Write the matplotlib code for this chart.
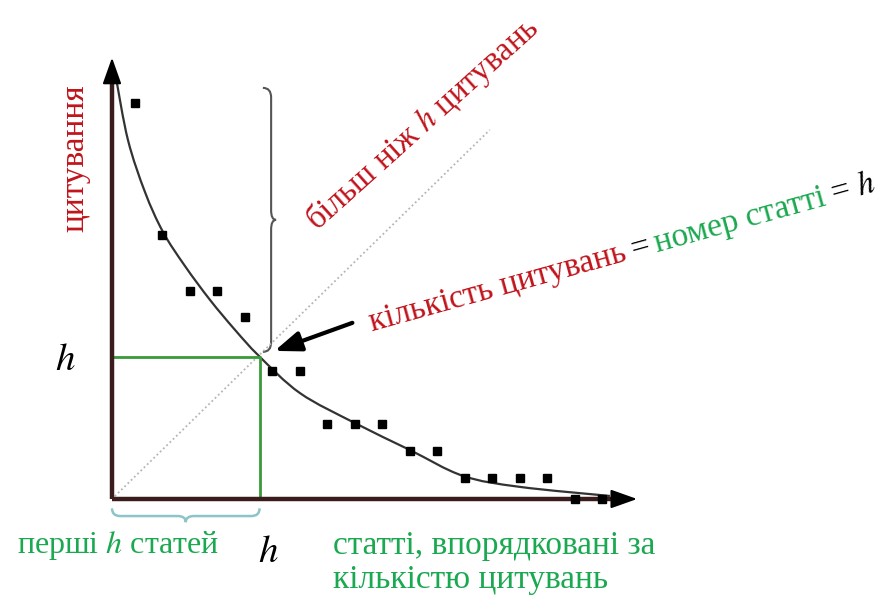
import numpy as np
import matplotlib
matplotlib.use("Agg")
import matplotlib.pyplot as plt
import matplotlib.patches as patches
from matplotlib.path import Path

plt.rcParams['font.family'] = ['Liberation Serif', 'DejaVu Serif']
plt.rcParams['mathtext.fontset'] = 'stix'

# papers ranked by number of citations
ranks = list(range(1, 19))
citations = [14.4, 9.6, 7.55, 7.55, 6.6, 4.65, 4.65, 2.72, 2.72, 2.72,
             1.76, 1.76, 0.75, 0.75, 0.75, 0.75, 0.0, 0.0]

# smooth guide curve
trend_x = [0.31, 0.745, 1.364, 2.018, 2.818, 3.727, 4.636, 5.509,
           7.0, 9.0, 11.0, 12.93, 15.0, 18.27]
trend_y = [15.31, 13.05, 11.16, 9.71, 8.47, 7.24, 6.15, 5.2,
           3.85, 2.76, 1.78, 0.84, 0.44, 0.11]

h_rank = 5.53
h_cit = 5.18

RED = '#c0141c'
GREEN = '#1aa850'
LINE_GREEN = '#3a9a3a'
AXIS = '#3a1c1c'


def smooth_path(xs, ys):
    pts = np.column_stack([xs, ys])
    p = np.vstack([pts[0], pts, pts[-1]])
    verts = [pts[0]]
    codes = [Path.MOVETO]
    for i in range(1, len(p) - 2):
        c1 = p[i] + (p[i + 1] - p[i - 1]) / 6
        c2 = p[i + 1] - (p[i + 2] - p[i]) / 6
        verts += [c1, c2, p[i + 1]]
        codes += [Path.CURVE4] * 3
    return Path(verts, codes)


def vbrace(ax, x, ytop, ybot, width, color, lw):
    # curly brace "}" with tip pointing right
    ym = (ytop + ybot) / 2
    r = 0.35
    xh, xt = x - width, x + width * 0.6
    verts = [(xh, ytop), (x, ytop), (x, ytop - r),
             (x, ym + r), (x, ym), (xt, ym),
             (x, ym), (x, ym - r),
             (x, ybot + r), (x, ybot), (xh, ybot)]
    codes = [Path.MOVETO, Path.CURVE3, Path.CURVE3,
             Path.LINETO, Path.CURVE3, Path.CURVE3,
             Path.CURVE3, Path.CURVE3,
             Path.LINETO, Path.CURVE3, Path.CURVE3]
    ax.add_patch(patches.PathPatch(Path(verts, codes), facecolor='none',
                                   edgecolor=color, lw=lw))


def hbrace(ax, xl, xr, y, height, color, lw):
    # brace under the axis with tip pointing down
    xm = (xl + xr) / 2
    r = 0.3
    yh, yt = y + height, y - height * 0.8
    verts = [(xl, yh), (xl, y), (xl + r, y),
             (xm - r, y), (xm, y), (xm, yt),
             (xm, y), (xm + r, y),
             (xr - r, y), (xr, y), (xr, yh)]
    codes = [Path.MOVETO, Path.CURVE3, Path.CURVE3,
             Path.LINETO, Path.CURVE3, Path.CURVE3,
             Path.CURVE3, Path.CURVE3,
             Path.LINETO, Path.CURVE3, Path.CURVE3]
    ax.add_patch(patches.PathPatch(Path(verts, codes), facecolor='none',
                                   edgecolor=color, lw=lw))


fig = plt.figure(figsize=[8.85, 5.97], dpi=100)
ax = fig.add_axes([0, 0, 1, 1])
ax.set_xlim(-3.909, 28.273)
ax.set_ylim(-3.564, 18.145)
ax.axis('off')

x0 = 0.164
x_end, y_end = 19.36, 16.15

# diagonal citations = rank
ax.plot([x0 + 0.1, 13.9], [0.1, 13.42], ls=(0, (1, 1.5)), color='#b5b5b5', lw=1.3)

# h square
ax.plot([x0, h_rank, h_rank], [h_cit, h_cit, 0], color=LINE_GREEN, lw=2)

# axes
ax.plot([x0, x_end - 0.6], [0, 0], color=AXIS, lw=3.2, solid_capstyle='butt')
ax.plot([x0, x0], [0, y_end - 0.6], color=AXIS, lw=3.2, solid_capstyle='butt')
ax.annotate('', xy=(x_end, 0), xytext=(x_end - 0.7, 0),
            arrowprops=dict(arrowstyle='-|>,head_length=0.9,head_width=0.32',
                            color='black', lw=1.5, mutation_scale=18))
ax.annotate('', xy=(x0, y_end), xytext=(x0, y_end - 0.7),
            arrowprops=dict(arrowstyle='-|>,head_length=0.9,head_width=0.32',
                            color='black', lw=1.5, mutation_scale=18))

# curve + data points
ax.add_patch(patches.PathPatch(smooth_path(trend_x, trend_y), facecolor='none',
                               edgecolor='#333333', lw=1.6))
ax.plot(ranks, citations, 's', color='black', ms=5.8)

# braces
vbrace(ax, 5.95, 14.95, 5.35, 0.3, '#555555', 1.5)
hbrace(ax, x0, h_rank, -0.62, 0.28, '#8cc4c8', 1.8)

# pointer arrow
ax.annotate('', xy=(5.98, 5.35), xytext=(9.0, 6.44),
            arrowprops=dict(arrowstyle='-|>,head_length=1.0,head_width=0.38',
                            color='black', lw=3, mutation_scale=16))

# labels
ax.text(-1.18, 12.4, 'цитування', color=RED, fontsize=24, rotation=90,
        ha='center', va='center')
ax.text(-1.55, 5.05, '$h$', color='black', fontsize=28, ha='center', va='center')
ax.text(5.84, -1.93, '$h$', color='black', fontsize=28, ha='center', va='center')
ax.text(-3.29, -1.96, 'перші $h$ статей', color=GREEN, fontsize=23,
        ha='left', va='baseline')
ax.text(8.2, -2.0, 'статті, впорядковані за', color=GREEN, fontsize=24,
        ha='left', va='baseline')
ax.text(8.2, -3.22, 'кількістю цитувань', color=GREEN, fontsize=24,
        ha='left', va='baseline')
ax.text(11.47, 13.65, 'більш ніж $h$ цитувань', color=RED, fontsize=23.5,
        rotation=42, rotation_mode='anchor', ha='center', va='center')

# multi-coloured rotated sentence
angle = 15.5
pieces = [('кількість цитувань', RED), ('=', 'black'),
          ('номер статті', GREEN), ('= $h$', 'black')]
fig.canvas.draw()
renderer = fig.canvas.get_renderer()
px_per_unit = ax.transData.transform((1, 0))[0] - ax.transData.transform((0, 0))[0]
cx, cy = 9.62, 6.1
gap = 6
for s, c in pieces:
    t = ax.text(cx, cy, s, color=c, fontsize=24, ha='left', va='baseline')
    w = t.get_window_extent(renderer).width
    t.set_rotation(angle)
    t.set_rotation_mode('anchor')
    d = (w + gap) / px_per_unit
    cx += d * np.cos(np.deg2rad(angle))
    cy += d * np.sin(np.deg2rad(angle))

plt.savefig('out.png', dpi=100)
plt.close()
